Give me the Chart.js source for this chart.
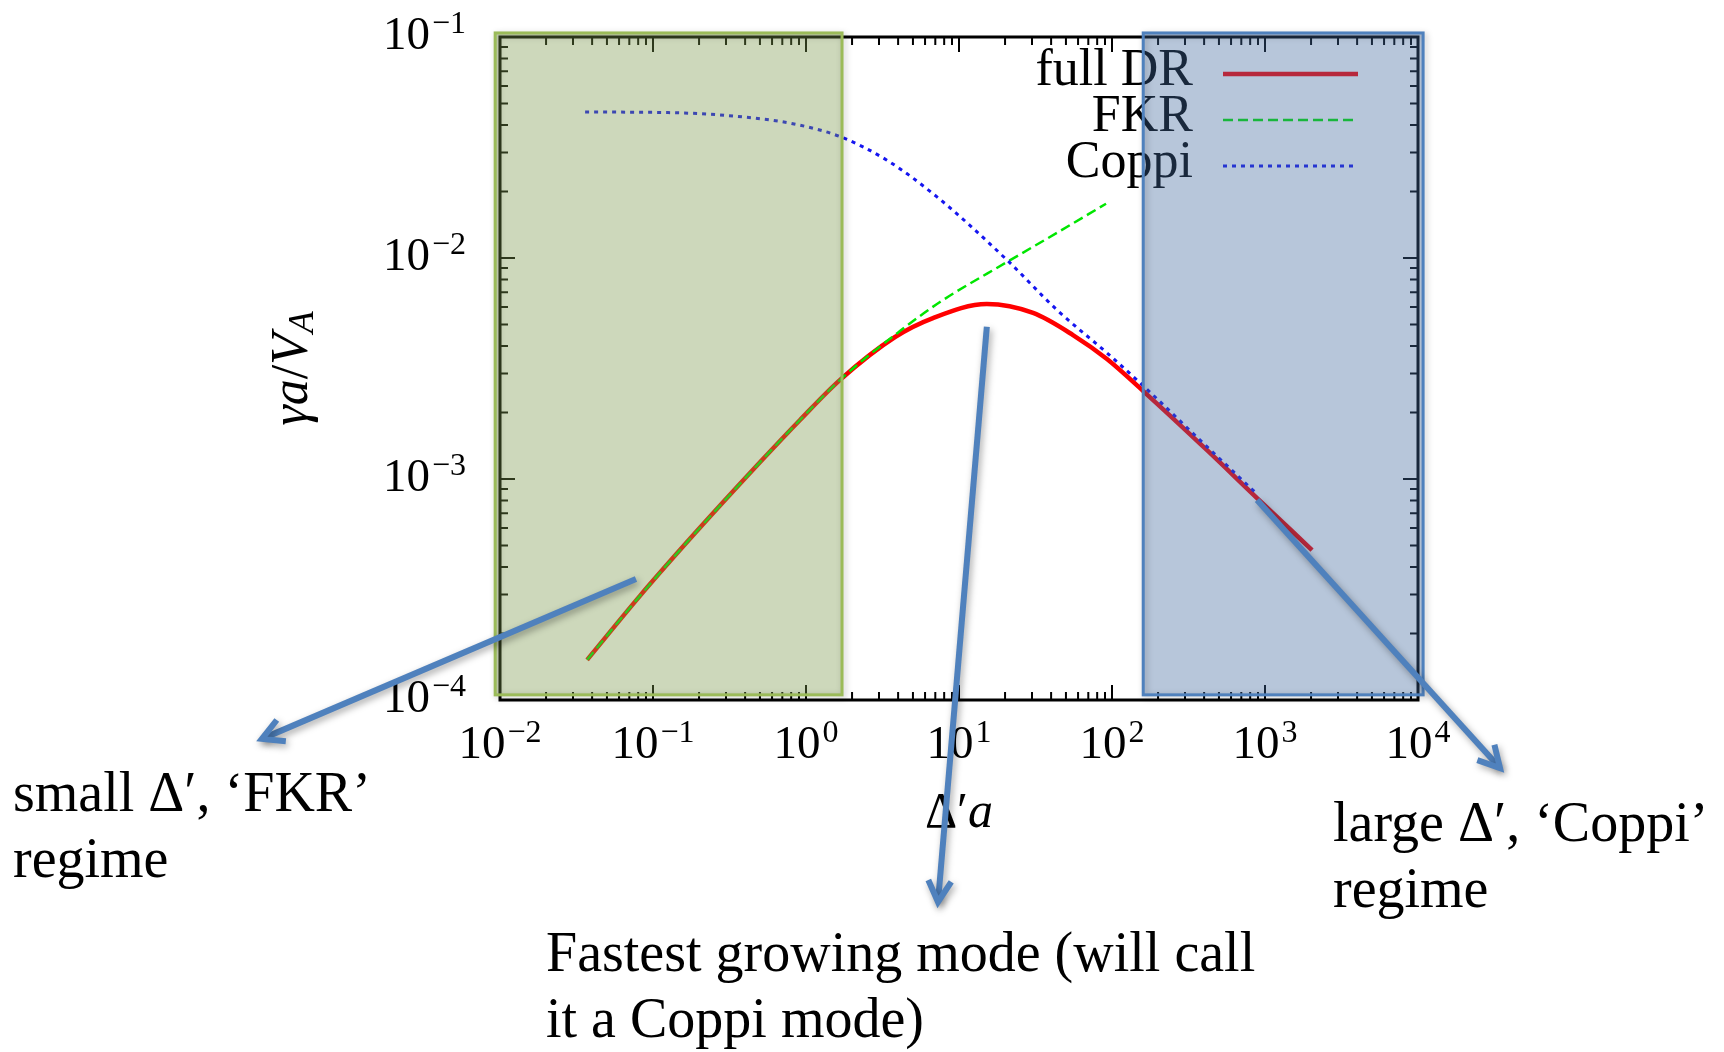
<!DOCTYPE html>
<html>
<head>
<meta charset="utf-8">
<title>Tearing mode growth rate</title>
<script src="https://cdn.jsdelivr.net/npm/chart.js@4.4.1/dist/chart.umd.min.js"></script>
<style>
  html, body { margin: 0; padding: 0; background: #fff; }
  canvas { display: block; }
</style>
</head>
<body>
<canvas id="chart" width="1724" height="1052"></canvas>
<script>
// Growth rate vs Delta' a, sampled along each curve
const fullDrX = [0.0371, 0.0822, 0.191, 0.50, 0.914, 1.67, 3.82, 6.76, 15.2, 30.5, 55.6, 92.7, 160, 418, 887, 2030];
const fullDrY = [1.52e-4, 2.96e-4, 5.75e-4, 1.19e-3, 1.85e-3, 2.81e-3, 4.39e-3, 5.35e-3, 6.19e-3, 5.64e-3, 4.48e-3, 3.49e-3, 2.50e-3, 1.35e-3, 8.20e-4, 4.77e-4];

const fkrX = [0.0371, 0.0822, 0.191, 0.50, 0.914, 1.67, 4.11, 7.51, 20.6, 43.7, 91.4];
const fkrY = [1.52e-4, 2.96e-4, 5.75e-4, 1.19e-3, 1.85e-3, 2.81e-3, 4.67e-3, 6.32e-3, 9.59e-3, 1.30e-2, 1.76e-2];

const coppiX = [0.0360, 0.160, 0.508, 0.899, 1.69, 3.38, 7.18, 20.6, 43.7, 92.7, 160, 376, 887];
const coppiY = [4.58e-2, 4.53e-2, 4.26e-2, 4.00e-2, 3.53e-2, 2.77e-2, 1.89e-2, 9.79e-3, 5.82e-3, 3.72e-3, 2.64e-3, 1.50e-3, 8.55e-4];

// axis decades (powers of ten)
const xPowers = [-2, -1, 0, 1, 2, 3, 4];
const yPowers = [-4, -3, -2, -1];

// shaded regimes, in axis units
const fkrRegion = [0.0093, 1.72];
const coppiRegion = [160, 10800];
const regionY = [1.055e-4, 0.1043];

// annotation arrows, tail and head in axis units
const arrowTails = [[0.0774, 3.53e-4], [15.2, 4.88e-3], [887, 8.03e-4]];
const arrowHeads = [[2.78e-4, 6.67e-5], [7.29, 1.22e-5], [34360, 4.92e-5]];

const noteLines = [
    ['small Δ′, ‘FKR’', 'regime'],
    ['Fastest growing mode (will call', 'it a Coppi mode)'],
    ['large Δ′, ‘Coppi’', 'regime']
];

const serif = '"Liberation Serif", "DejaVu Serif", serif';

function toPoints(xs, ys) {
    return xs.map((x, i) => ({ x: x, y: ys[i] }));
}

function powLabel(ctx, p, x, baseline, align) {
    const base = '10';
    const exp = p < 0 ? '\u2212' + (-p) : String(p);
    ctx.font = '47px ' + serif;
    const wb = ctx.measureText(base).width;
    ctx.font = '32px ' + serif;
    const we = ctx.measureText(exp).width;
    const total = wb + we + 2;
    let x0 = align === 'right' ? x - total : x - total / 2;
    ctx.textAlign = 'left';
    ctx.textBaseline = 'alphabetic';
    ctx.font = '47px ' + serif;
    ctx.fillText(base, x0, baseline);
    ctx.font = '32px ' + serif;
    ctx.fillText(exp, x0 + wb + 2, baseline - 16);
}

function drawArrow(ctx, x1, y1, x2, y2) {
    const ang = Math.atan2(y2 - y1, x2 - x1);
    const len = 24, spread = 0.5;
    ctx.beginPath();
    ctx.moveTo(x1, y1);
    ctx.lineTo(x2, y2);
    ctx.stroke();
    ctx.beginPath();
    ctx.moveTo(x2 - len * Math.cos(ang - spread), y2 - len * Math.sin(ang - spread));
    ctx.lineTo(x2, y2);
    ctx.lineTo(x2 - len * Math.cos(ang + spread), y2 - len * Math.sin(ang + spread));
    ctx.stroke();
}

const plotDecor = {
    id: 'plotDecor',
    beforeDraw(chart) {
        const ctx = chart.ctx;
        ctx.save();
        ctx.fillStyle = '#fff';
        ctx.fillRect(0, 0, chart.width, chart.height);
        ctx.restore();
    },
    afterDatasetsDraw(chart) {
        const ctx = chart.ctx;
        const { left, right, top, bottom } = chart.chartArea;
        const xs = chart.scales.x, ys = chart.scales.y;
        ctx.save();

        // frame
        ctx.strokeStyle = '#000';
        ctx.lineWidth = 3;
        ctx.strokeRect(left, top, right - left, bottom - top);

        // inward ticks on all four sides
        ctx.lineWidth = 2;
        ctx.beginPath();
        xPowers.forEach(p => {
            for (let m = 1; m < 10; m++) {
                const v = m * Math.pow(10, p);
                if (v > xs.max * 1.0001) break;
                const px = xs.getPixelForValue(v);
                const len = m === 1 ? 15 : 8;
                ctx.moveTo(px, bottom); ctx.lineTo(px, bottom - len);
                ctx.moveTo(px, top); ctx.lineTo(px, top + len);
            }
        });
        yPowers.forEach(p => {
            for (let m = 1; m < 10; m++) {
                const v = m * Math.pow(10, p);
                if (v > ys.max * 1.0001) break;
                const py = ys.getPixelForValue(v);
                const len = m === 1 ? 15 : 8;
                ctx.moveTo(left, py); ctx.lineTo(left + len, py);
                ctx.moveTo(right, py); ctx.lineTo(right - len, py);
            }
        });
        ctx.stroke();

        // tick labels
        ctx.fillStyle = '#000';
        xPowers.forEach(p => powLabel(ctx, p, xs.getPixelForValue(Math.pow(10, p)), bottom + 58, 'center'));
        yPowers.forEach(p => powLabel(ctx, p, left - 34, ys.getPixelForValue(Math.pow(10, p)) + 12, 'right'));

        // x axis title
        ctx.font = '50px ' + serif;
        const wd = ctx.measureText('Δ′').width;
        ctx.font = 'italic 50px ' + serif;
        const wa = ctx.measureText('a').width;
        let tx = (left + right) / 2 - (wd + wa) / 2;
        ctx.textAlign = 'left';
        ctx.font = '50px ' + serif;
        ctx.fillText('Δ′', tx, 827);
        ctx.font = 'italic 50px ' + serif;
        ctx.fillText('a', tx + wd, 827);

        // y axis title, rotated
        ctx.save();
        ctx.translate(307, (top + bottom) / 2);
        ctx.rotate(-Math.PI / 2);
        const parts = [
            { t: 'γa', f: 'italic 52px ' + serif, dy: 0 },
            { t: '/', f: '52px ' + serif, dy: 0 },
            { t: 'V', f: 'italic 52px ' + serif, dy: 0 },
            { t: 'A', f: 'italic 36px ' + serif, dy: 6 }
        ];
        let total = 0;
        parts.forEach(pt => { ctx.font = pt.f; pt.w = ctx.measureText(pt.t).width; total += pt.w; });
        let cx = -total / 2;
        parts.forEach(pt => { ctx.font = pt.f; ctx.fillText(pt.t, cx, pt.dy); cx += pt.w; });
        ctx.restore();

        // legend: right-aligned labels with line samples
        chart.data.datasets.forEach((ds, i) => {
            const ly = 74 + i * 46;
            ctx.font = '52px ' + serif;
            ctx.textAlign = 'right';
            ctx.fillStyle = '#000';
            ctx.fillText(ds.label, 1193, ly + 11);
            ctx.strokeStyle = ds.borderColor;
            ctx.lineWidth = ds.borderWidth;
            ctx.setLineDash(ds.borderDash || []);
            ctx.beginPath();
            ctx.moveTo(1223, ly);
            ctx.lineTo(1358, ly);
            ctx.stroke();
            ctx.setLineDash([]);
        });

        // translucent regime boxes over the plot
        const boxes = [
            { r: fkrRegion, fill: 'rgba(123,152,76,0.38)', edge: '#9bbb59' },
            { r: coppiRegion, fill: 'rgba(66,105,158,0.38)', edge: '#4f81bd' }
        ];
        boxes.forEach(b => {
            const x1 = xs.getPixelForValue(b.r[0]), x2 = xs.getPixelForValue(b.r[1]);
            const y1 = ys.getPixelForValue(regionY[1]), y2 = ys.getPixelForValue(regionY[0]);
            ctx.fillStyle = b.fill;
            ctx.fillRect(x1, y1, x2 - x1, y2 - y1);
            ctx.save();
            ctx.shadowColor = 'rgba(0,0,0,0.25)';
            ctx.shadowBlur = 6;
            ctx.shadowOffsetX = 2;
            ctx.shadowOffsetY = 2;
            ctx.strokeStyle = b.edge;
            ctx.lineWidth = 3;
            ctx.strokeRect(x1, y1, x2 - x1, y2 - y1);
            ctx.restore();
        });

        // annotation arrows
        ctx.save();
        ctx.strokeStyle = '#4f81bd';
        ctx.lineWidth = 6;
        ctx.lineJoin = 'miter';
        ctx.shadowColor = 'rgba(0,0,0,0.35)';
        ctx.shadowBlur = 7;
        ctx.shadowOffsetX = 2;
        ctx.shadowOffsetY = 3;
        arrowTails.forEach((t, i) => {
            const h = arrowHeads[i];
            drawArrow(ctx,
                xs.getPixelForValue(t[0]), ys.getPixelForValue(t[1]),
                xs.getPixelForValue(h[0]), ys.getPixelForValue(h[1]));
        });
        ctx.restore();

        // annotation text
        const notePos = [[13, 811], [546, 971], [1333, 841]];
        ctx.fillStyle = '#000';
        ctx.textAlign = 'left';
        ctx.font = '56px ' + serif;
        noteLines.forEach((lines, i) => {
            lines.forEach((line, j) => ctx.fillText(line, notePos[i][0], notePos[i][1] + j * 66));
        });

        ctx.restore();
    }
};

new Chart(document.getElementById('chart'), {
    type: 'line',
    data: {
        datasets: [
            {
                label: 'full DR',
                data: toPoints(fullDrX, fullDrY),
                borderColor: '#ff0000',
                borderWidth: 4.5,
                order: 3
            },
            {
                label: 'FKR',
                data: toPoints(fkrX, fkrY),
                borderColor: '#00e600',
                borderWidth: 2.5,
                borderDash: [10, 5],
                order: 2
            },
            {
                label: 'Coppi',
                data: toPoints(coppiX, coppiY),
                borderColor: '#1515f0',
                borderWidth: 3,
                borderDash: [4, 5],
                order: 1
            }
        ]
    },
    options: {
        responsive: false,
        devicePixelRatio: 1,
        animation: false,
        layout: { padding: { left: 500, right: 306, top: 37, bottom: 352 } },
        elements: {
            point: { radius: 0 },
            line: { cubicInterpolationMode: 'monotone', fill: false }
        },
        scales: {
            x: { type: 'logarithmic', min: 0.01, max: 10000, display: false },
            y: { type: 'logarithmic', min: 1e-4, max: 0.1, display: false }
        },
        plugins: {
            legend: { display: false },
            tooltip: { enabled: false }
        }
    },
    plugins: [plotDecor]
});
</script>
</body>
</html>
